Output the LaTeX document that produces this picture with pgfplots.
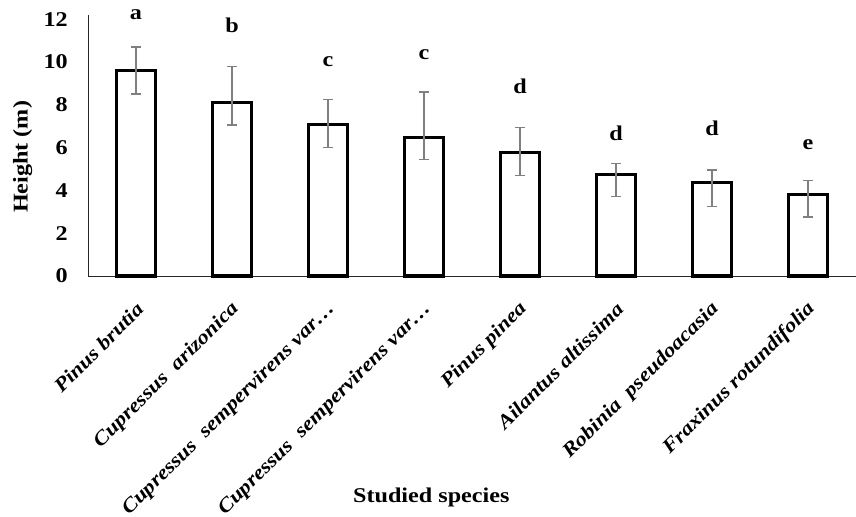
\documentclass[border=0pt]{standalone}
\usepackage{fontspec}
\setmainfont{Liberation Serif}[FakeStretch=1.15]
\usepackage{pgfplots}
\pgfplotsset{compat=1.18}
\usepackage{pgfplotstable}
\pgfplotstableread{
x y ep em
0 9.6  1.1  1.1
1 8.1  1.7  1.05
2 7.1  1.15 1.1
3 6.45 2.15 1.0
4 5.75 1.2  1.05
5 4.75 0.5  1.05
6 4.35 0.6  1.1
7 3.8  0.65 1.05
}\data
\newcommand\ff{\fontsize{21bp}{24bp}\selectfont\bfseries}
\newcommand\fx{\fontsize{19.8bp}{23bp}\selectfont\bfseries\itshape}
\begin{document}
\begin{tikzpicture}
\path[use as bounding box] (0,0) rectangle (856bp,517bp);
\begin{axis}[
  at={(88bp,241bp)}, anchor=south west,
  x=96bp, y=21.4bp,
  xmin=-0.5, xmax=7.5, ymin=0, ymax=12.2,
  axis x line=bottom, axis y line=left,
  axis line style={-, black!85, line width=1bp},
  ytick={0,2,...,12},
  xtick={0,...,7},
  major tick length=0pt,
  /pgf/number format/assume math mode=true,
  yticklabel style={font=\ff, inner sep=0pt, anchor=east, xshift=-20bp},
  xticklabels={Pinus brutia, Cupressus\ \ arizonica, Cupressus\ \ sempervirens var…, Cupressus\ \ sempervirens var…, Pinus pinea, Ailantus altissima, Robinia\ \ pseudoacasia, Fraxinus rotundifolia},
  xticklabel style={font=\fx, inner sep=0pt, yshift=-30bp, xshift=4bp, anchor=east, rotate=45},
  xlabel={Studied species},
  ylabel={Height (m)},
  every axis x label/.style={at={(axis description cs:0.447,-0.847)}, anchor=center, font=\ff},
  every axis y label/.style={at={(axis description cs:-0.085,0.456)}, rotate=90, anchor=center, font=\ff},
  clip=false,
]
\addplot[ybar, bar width=0.41, fill=white, draw=black, line width=3bp,
  error bars/.cd, y dir=both, y explicit,
  error bar style={line width=1.3bp, draw=black!50},
  error mark options={rotate=90, mark size=5bp, line width=1.3bp, draw=black!50}]
  table[x=x, y=y, y error plus=ep, y error minus=em] {\data};
\begin{scope}[every node/.style={font=\ff, anchor=center}]
\node at (axis cs:0,12.2) {a};
\node at (axis cs:1,11.7) {b};
\node at (axis cs:2,10.0) {c};
\node at (axis cs:3,10.33) {c};
\node at (axis cs:4,8.85) {d};
\node at (axis cs:5,6.67) {d};
\node at (axis cs:6,6.9) {d};
\node at (axis cs:7,6.12) {e};
\end{scope}
\end{axis}
\end{tikzpicture}
\end{document}
